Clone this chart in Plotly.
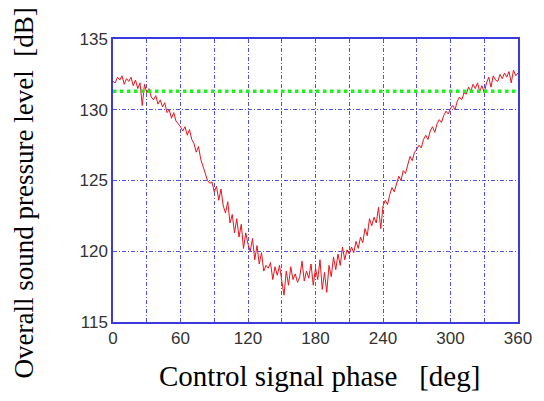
import plotly.graph_objects as go

phase_deg = list(range(0, 361, 2))
spl_db = [
    132.0, 131.9, 132.3, 132.1, 132.4, 131.8, 132.2, 132.0, 132.3, 131.7,
    132.1, 131.5, 131.9, 130.3, 131.8, 131.2, 131.5, 130.9, 130.7, 131.0,
    130.4, 130.7, 130.2, 130.5, 129.8, 130.0, 129.4, 129.8, 129.2, 129.0,
    128.8, 128.5, 128.8, 128.2, 128.6, 127.9, 127.6, 127.0, 127.4, 126.5,
    126.0, 125.4, 125.0, 124.8, 124.9, 124.2, 124.6, 123.6, 124.4, 123.2,
    122.7, 123.5, 122.0, 122.6, 121.3, 122.3, 121.0, 121.9, 120.2, 121.3,
    120.5, 120.0, 120.9, 119.4, 120.4, 119.1, 119.9, 118.6, 119.0, 118.8,
    119.2, 118.0, 118.9, 118.3, 119.0, 117.9, 116.9, 118.6, 117.6, 118.9,
    118.0, 118.4, 117.8, 118.2, 119.3, 117.9, 118.6, 118.1, 119.1, 117.6,
    118.8, 118.0, 119.4, 117.3, 118.5, 117.1, 119.0, 118.2, 119.6, 118.7,
    119.8, 119.0, 120.3, 119.4, 120.1, 119.8, 120.3, 119.9, 120.7, 120.2,
    121.0, 120.6, 121.6, 121.1, 122.3, 121.8, 122.4, 122.0, 123.1, 121.6,
    123.2, 123.6, 123.3, 124.0, 124.5, 124.2, 124.8, 125.3, 125.0, 125.7,
    125.5, 126.2, 126.7, 126.4, 127.0, 127.2, 127.5, 127.3, 127.9, 128.2,
    127.9, 128.5, 128.8, 128.4, 129.0, 129.3, 129.1, 129.6, 129.9, 129.7,
    130.1, 130.3, 130.0, 130.6, 130.9, 130.7, 131.2, 131.1, 131.6, 131.3,
    131.8, 131.5, 131.9, 131.3, 131.7, 131.2, 131.9, 132.3, 131.6, 132.4,
    132.1, 132.0, 132.5, 132.2, 132.6, 132.3, 132.7, 131.9, 132.8, 132.4,
    132.6,
]
reference_level_db = 131.3
x_ticks = [0, 60, 120, 180, 240, 300, 360]
y_ticks = [115, 120, 125, 130, 135]
x_title = "Control signal phase\u00a0\u00a0\u00a0[deg]"
y_title = "Overall sound pressure level\u00a0\u00a0[dB]"

fig = go.Figure()
fig.add_trace(go.Scatter(
    x=phase_deg, y=spl_db, mode="lines",
    line=dict(color="#e8141c", width=1), showlegend=False,
))
fig.add_trace(go.Scatter(
    x=[phase_deg[0], phase_deg[-1]], y=[reference_level_db, reference_level_db],
    mode="lines", line=dict(color="#22ee22", width=3.5, dash="dot"), showlegend=False,
))

grid_col = "#5252ea"
grid_dash = "4px,2px,1px,2px"
axis_common = dict(
    showline=True, mirror=True, linecolor="#3b3bdd", linewidth=1.5,
    showgrid=True, gridcolor=grid_col, gridwidth=1, griddash=grid_dash,
    zeroline=False, ticks="", tickfont=dict(family="Liberation Sans, Arial", size=17, color="#333333"),
)
fig.update_layout(
    width=544, height=401,
    margin=dict(l=113, r=17, t=39, b=79),
    paper_bgcolor="white", plot_bgcolor="white",
    xaxis=dict(
        range=[0, 360], tickvals=x_ticks,
        minor=dict(dtick=30, showgrid=True, gridcolor=grid_col, griddash=grid_dash, gridwidth=1),
        **axis_common,
    ),
    yaxis=dict(range=[115, 135], tickvals=y_ticks, **axis_common),
    annotations=[
        dict(text=x_title, xref="paper", yref="paper", x=0.51, y=-0.191,
             xanchor="center", yanchor="middle", showarrow=False,
             font=dict(family="Liberation Serif, Times New Roman", size=29, color="black")),
        dict(text=y_title, xref="paper", yref="paper", x=-0.2174, y=0.4576,
             xanchor="center", yanchor="middle", showarrow=False,
             font=dict(family="Liberation Serif, Times New Roman", size=27, color="black"),
             textangle=-90),
    ],
)
fig.write_html("out.html")
